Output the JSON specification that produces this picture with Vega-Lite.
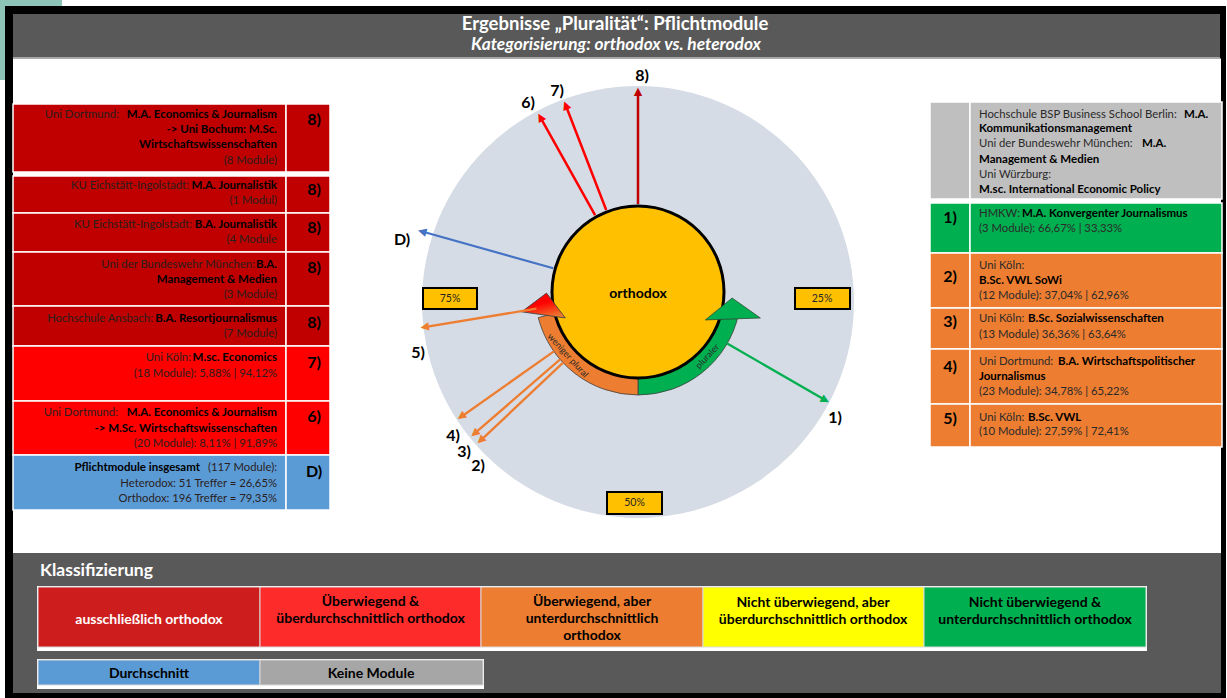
{
  "$schema": "https://vega.github.io/schema/vega-lite/v6.json",
  "width": 1227,
  "height": 698,
  "padding": 0,
  "autosize": {"type": "fit", "contains": "padding"},
  "background": "white",
  "config": {"view": {"stroke": null}, "font": "Lato", "text": {"font": "Lato"}},
  "datasets": {
    "flaechen": [
      {"x": 0, "x2": 62, "y": 0, "y2": 6, "k": "teal"},
      {"x": 0, "x2": 6, "y": 0, "y2": 80, "k": "teal"},
      {"x": 5, "x2": 1226, "y": 6, "y2": 698, "k": "rahmen"},
      {"x": 13, "x2": 1220, "y": 14, "y2": 57, "k": "kopf"},
      {"x": 13, "x2": 1220, "y": 57, "y2": 58.5, "k": "linie"},
      {"x": 13, "x2": 1221, "y": 58.5, "y2": 553, "k": "weiss"},
      {"x": 13, "x2": 1221, "y": 553, "y2": 693, "k": "kopf"},
      {"x": 37, "x2": 1147, "y": 586, "y2": 651, "k": "weiss"},
      {"x": 37, "x2": 484, "y": 659, "y2": 689, "k": "weiss"}
    ],
    "zellen": [
      {"s": "L", "y": 104, "y2": 172, "k": "ausschl"},
      {"s": "L", "y": 176, "y2": 213, "k": "ausschl"},
      {"s": "L", "y": 213, "y2": 252, "k": "ausschl"},
      {"s": "L", "y": 252, "y2": 306, "k": "ausschl"},
      {"s": "L", "y": 306, "y2": 346, "k": "ausschl"},
      {"s": "L", "y": 346, "y2": 401, "k": "ueberw"},
      {"s": "L", "y": 401, "y2": 455, "k": "ueberw"},
      {"s": "L", "y": 455, "y2": 510, "k": "avg"},
      {"s": "R", "y": 102, "y2": 199, "k": "keine"},
      {"s": "R", "y": 203, "y2": 253, "k": "nicht"},
      {"s": "R", "y": 253, "y2": 308, "k": "unter"},
      {"s": "R", "y": 308, "y2": 349, "k": "unter"},
      {"s": "R", "y": 349, "y2": 404, "k": "unter"},
      {"s": "R", "y": 404, "y2": 447, "k": "unter"}
    ],
    "legende": [
      {"x": 38, "x2": 260, "y": 587, "y2": 647, "k": "L1"},
      {"x": 260, "x2": 481, "y": 587, "y2": 647, "k": "L2"},
      {"x": 481, "x2": 703, "y": 587, "y2": 647, "k": "L3"},
      {"x": 703, "x2": 924, "y": 587, "y2": 647, "k": "L4"},
      {"x": 924, "x2": 1146, "y": 587, "y2": 647, "k": "L5"},
      {"x": 38, "x2": 260, "y": 660, "y2": 685, "k": "LD"},
      {"x": 260, "x2": 483, "y": 660, "y2": 685, "k": "LK"}
    ],
    "prozentboxen": [
      {"x": 423, "x2": 477, "y": 288, "y2": 309},
      {"x": 795, "x2": 850, "y": 288, "y2": 309},
      {"x": 607, "x2": 662, "y": 492, "y2": 514}
    ],
    "voll": [{"p0": 0, "p1": 100}],
    "baender": [
      {"p0": 28.5, "p1": 50, "k": "nicht", "lab": "pluraler", "pm": 36.9},
      {"p0": 50, "p1": 71, "k": "unter", "lab": "weniger plural", "pm": 63.3}
    ],
    "koepfe": [
      {"x": 732.5, "y": 308.5, "k": "nicht"},
      {"x": 545, "y": 304, "k": "unter"}
    ],
    "pfeile": [
      {"id": "1", "pct": 33.33, "k": "nicht"},
      {"id": "2", "pct": 62.96, "k": "unter"},
      {"id": "3", "pct": 63.64, "k": "unter"},
      {"id": "4", "pct": 65.22, "k": "unter"},
      {"id": "5", "pct": 72.41, "k": "unter"},
      {"id": "D", "pct": 79.35, "k": "avg"},
      {"id": "6", "pct": 91.89, "k": "ueberw"},
      {"id": "7", "pct": 94.12, "k": "ueberw"},
      {"id": "8", "pct": 100, "k": "ausschl"}
    ],
    "texte": [
      {"x": 615, "y": 24, "t": "Ergebnisse „Pluralität“: Pflichtmodule", "g": "titel"},
      {"x": 616, "y": 45, "t": "Kategorisierung: orthodox vs. heterodox", "g": "sub"},
      {"x": 40, "y": 571, "t": "Klassifizierung", "g": "klass"},

      {"x": 119, "y": 115, "t": "Uni Dortmund:", "g": "lr"},
      {"x": 277, "y": 115, "t": "M.A. Economics & Journalism", "g": "lb"},
      {"x": 277, "y": 130, "t": "-> Uni Bochum: M.Sc.", "g": "lb"},
      {"x": 277, "y": 145, "t": "Wirtschaftswissenschaften", "g": "lb"},
      {"x": 277, "y": 161, "t": "(8 Module)", "g": "lr"},
      {"x": 189, "y": 186, "t": "KU Eichstätt-Ingolstadt:", "g": "lr"},
      {"x": 277, "y": 186, "t": "M.A. Journalistik", "g": "lb"},
      {"x": 277, "y": 201, "t": "(1 Modul)", "g": "lr"},
      {"x": 192, "y": 225, "t": "KU Eichstätt-Ingolstadt:", "g": "lr"},
      {"x": 277, "y": 225, "t": "B.A. Journalistik", "g": "lb"},
      {"x": 277, "y": 240, "t": "(4 Module", "g": "lr"},
      {"x": 255, "y": 265, "t": "Uni der Bundeswehr München:", "g": "lr"},
      {"x": 277, "y": 265, "t": "B.A.", "g": "lb"},
      {"x": 277, "y": 280, "t": "Management & Medien", "g": "lb"},
      {"x": 277, "y": 295, "t": "(3 Module)", "g": "lr"},
      {"x": 153, "y": 319, "t": "Hochschule Ansbach:", "g": "lr"},
      {"x": 277, "y": 319, "t": "B.A. Resortjournalismus", "g": "lb"},
      {"x": 277, "y": 334, "t": "(7 Module)", "g": "lr"},
      {"x": 191, "y": 358, "t": "Uni Köln:", "g": "lr"},
      {"x": 277, "y": 358, "t": "M.sc.  Economics", "g": "lb"},
      {"x": 277, "y": 374, "t": "(18 Module): 5,88% |  94,12%", "g": "lr"},
      {"x": 118, "y": 413, "t": "Uni Dortmund:", "g": "lr"},
      {"x": 277, "y": 413, "t": "M.A. Economics  & Journalism", "g": "lb"},
      {"x": 277, "y": 429, "t": "-> M.Sc. Wirtschaftswissenschaften", "g": "lb"},
      {"x": 277, "y": 444, "t": "(20 Module): 8,11% |  91,89%", "g": "lr"},
      {"x": 200, "y": 468, "t": "Pflichtmodule insgesamt", "g": "lb"},
      {"x": 277, "y": 468, "t": "(117 Module):", "g": "lr"},
      {"x": 277, "y": 484, "t": "Heterodox:  51 Treffer = 26,65%", "g": "lr"},
      {"x": 277, "y": 499, "t": "Orthodox: 196 Treffer = 79,35%", "g": "lr"},

      {"x": 314, "y": 120, "t": "8)", "g": "nr"},
      {"x": 314, "y": 190, "t": "8)", "g": "nr"},
      {"x": 314, "y": 228, "t": "8)", "g": "nr"},
      {"x": 314, "y": 268, "t": "8)", "g": "nr"},
      {"x": 314, "y": 323, "t": "8)", "g": "nr"},
      {"x": 314, "y": 363, "t": "7)", "g": "nr"},
      {"x": 314, "y": 417, "t": "6)", "g": "nr"},
      {"x": 314, "y": 472, "t": "D)", "g": "nr"},

      {"x": 979, "y": 115, "t": "Hochschule BSP Business School Berlin:", "g": "rr"},
      {"x": 1184, "y": 115, "t": "M.A.", "g": "rb"},
      {"x": 979, "y": 129, "t": "Kommunikationsmanagement", "g": "rb"},
      {"x": 979, "y": 144, "t": "Uni der Bundeswehr München:", "g": "rr"},
      {"x": 1142, "y": 144, "t": "M.A.", "g": "rb"},
      {"x": 979, "y": 160, "t": "Management & Medien", "g": "rb"},
      {"x": 979, "y": 175, "t": "Uni Würzburg:", "g": "rr"},
      {"x": 979, "y": 190, "t": "M.sc. International  Economic  Policy", "g": "rb"},
      {"x": 979, "y": 214, "t": "HMKW:", "g": "rr"},
      {"x": 1022, "y": 214, "t": "M.A.  Konvergenter Journalismus", "g": "rb"},
      {"x": 979, "y": 229, "t": "(3 Module): 66,67% | 33,33%", "g": "rr"},
      {"x": 979, "y": 266, "t": "Uni Köln:", "g": "rr"},
      {"x": 979, "y": 281, "t": "B.Sc. VWL SoWi", "g": "rb"},
      {"x": 979, "y": 296, "t": "(12 Module): 37,04% | 62,96%", "g": "rr"},
      {"x": 979, "y": 319, "t": "Uni Köln:", "g": "rr"},
      {"x": 1028, "y": 319, "t": "B.Sc. Sozialwissenschaften", "g": "rb"},
      {"x": 979, "y": 335, "t": "(13 Module) 36,36% | 63,64%", "g": "rr"},
      {"x": 979, "y": 362, "t": "Uni Dortmund:", "g": "rr"},
      {"x": 1058, "y": 362, "t": "B.A. Wirtschaftspolitischer", "g": "rb"},
      {"x": 979, "y": 377, "t": "Journalismus", "g": "rb"},
      {"x": 979, "y": 392, "t": "(23 Module): 34,78% | 65,22%", "g": "rr"},
      {"x": 979, "y": 418, "t": "Uni Köln:", "g": "rr"},
      {"x": 1028, "y": 418, "t": "B.Sc. VWL", "g": "rb"},
      {"x": 979, "y": 432, "t": "(10 Module): 27,59% | 72,41%", "g": "rr"},

      {"x": 950, "y": 218, "t": "1)", "g": "nr"},
      {"x": 950, "y": 277, "t": "2)", "g": "nr"},
      {"x": 950, "y": 322, "t": "3)", "g": "nr"},
      {"x": 950, "y": 367, "t": "4)", "g": "nr"},
      {"x": 950, "y": 419, "t": "5)", "g": "nr"},

      {"x": 149, "y": 620, "t": "ausschließlich orthodox", "g": "legw"},
      {"x": 370.5, "y": 602, "t": "Überwiegend &\nüberdurchschnittlich orthodox", "g": "leg"},
      {"x": 592, "y": 602, "t": "Überwiegend, aber\nunterdurchschnittlich\northodox", "g": "leg"},
      {"x": 813, "y": 603, "t": "Nicht überwiegend, aber\nüberdurchschnittlich orthodox", "g": "leg"},
      {"x": 1035, "y": 603, "t": "Nicht überwiegend &\nunterdurchschnittlich orthodox", "g": "leg"},
      {"x": 149, "y": 674, "t": "Durchschnitt", "g": "leg"},
      {"x": 371, "y": 674, "t": "Keine Module", "g": "leg"},

      {"x": 450, "y": 298.5, "t": "75%", "g": "proz"},
      {"x": 822, "y": 298.5, "t": "25%", "g": "proz"},
      {"x": 634.5, "y": 503, "t": "50%", "g": "proz"},

      {"x": 642, "y": 76, "t": "8)", "g": "pl"},
      {"x": 557, "y": 91, "t": "7)", "g": "pl"},
      {"x": 528, "y": 103, "t": "6)", "g": "pl"},
      {"x": 402, "y": 240, "t": "D)", "g": "pl"},
      {"x": 418, "y": 353, "t": "5)", "g": "pl"},
      {"x": 453, "y": 436, "t": "4)", "g": "pl"},
      {"x": 464, "y": 452, "t": "3)", "g": "pl"},
      {"x": 478, "y": 466, "t": "2)", "g": "pl"},
      {"x": 835, "y": 418, "t": "1)", "g": "pl"},

      {"x": 638, "y": 294, "t": "orthodox", "g": "orth"}
    ]
  },
  "resolve": {"scale": {"color": "independent", "stroke": "independent"}},
  "layer": [
    {
      "data": {"name": "flaechen"},
      "mark": {"type": "rect"},
      "encoding": {
        "x": {"field": "x", "type": "quantitative", "scale": {"domain": [0, 1227], "nice": false, "zero": false}, "axis": null},
        "y": {"field": "y", "type": "quantitative", "scale": {"domain": [0, 698], "nice": false, "zero": false, "reverse": true}, "axis": null},
        "x2": {"field": "x2"},
        "y2": {"field": "y2"},
        "color": {"field": "k", "type": "nominal", "legend": null,
          "scale": {"domain": ["teal", "rahmen", "kopf", "linie", "weiss"], "range": ["#8EC4B8", "#000000", "#595959", "#A6A6A6", "#FFFFFF"]}}
      }
    },
    {
      "data": {"name": "zellen"},
      "transform": [{"filter": "datum.s === 'L'"}],
      "mark": {"type": "rect", "stroke": "#FFFFFF", "strokeWidth": 1.5},
      "encoding": {
        "x": {"datum": 13, "type": "quantitative", "scale": {"domain": [0, 1227], "nice": false, "zero": false}, "axis": null},
        "x2": {"datum": 286},
        "y": {"field": "y", "type": "quantitative", "scale": {"domain": [0, 698], "nice": false, "zero": false, "reverse": true}, "axis": null},
        "y2": {"field": "y2"},
        "color": {"field": "k", "type": "nominal", "legend": null,
          "scale": {"domain": ["ausschl", "ueberw", "unter", "nicht", "avg", "keine"], "range": ["#C00000", "#FF0000", "#ED7D31", "#00B050", "#5B9BD5", "#BFBFBF"]}}
      }
    },
    {
      "data": {"name": "zellen"},
      "transform": [{"filter": "datum.s === 'L'"}],
      "mark": {"type": "rect", "stroke": "#FFFFFF", "strokeWidth": 1.5},
      "encoding": {
        "x": {"datum": 286, "type": "quantitative", "scale": {"domain": [0, 1227], "nice": false, "zero": false}, "axis": null},
        "x2": {"datum": 330},
        "y": {"field": "y", "type": "quantitative", "scale": {"domain": [0, 698], "nice": false, "zero": false, "reverse": true}, "axis": null},
        "y2": {"field": "y2"},
        "color": {"field": "k", "type": "nominal", "legend": null,
          "scale": {"domain": ["ausschl", "ueberw", "unter", "nicht", "avg", "keine"], "range": ["#C00000", "#FF0000", "#ED7D31", "#00B050", "#5B9BD5", "#BFBFBF"]}}
      }
    },
    {
      "data": {"name": "zellen"},
      "transform": [{"filter": "datum.s === 'R'"}],
      "mark": {"type": "rect", "stroke": "#FFFFFF", "strokeWidth": 1.5},
      "encoding": {
        "x": {"datum": 930, "type": "quantitative", "scale": {"domain": [0, 1227], "nice": false, "zero": false}, "axis": null},
        "x2": {"datum": 970},
        "y": {"field": "y", "type": "quantitative", "scale": {"domain": [0, 698], "nice": false, "zero": false, "reverse": true}, "axis": null},
        "y2": {"field": "y2"},
        "color": {"field": "k", "type": "nominal", "legend": null,
          "scale": {"domain": ["ausschl", "ueberw", "unter", "nicht", "avg", "keine"], "range": ["#C00000", "#FF0000", "#ED7D31", "#00B050", "#5B9BD5", "#BFBFBF"]}}
      }
    },
    {
      "data": {"name": "zellen"},
      "transform": [{"filter": "datum.s === 'R'"}],
      "mark": {"type": "rect", "stroke": "#FFFFFF", "strokeWidth": 1.5},
      "encoding": {
        "x": {"datum": 970, "type": "quantitative", "scale": {"domain": [0, 1227], "nice": false, "zero": false}, "axis": null},
        "x2": {"datum": 1222},
        "y": {"field": "y", "type": "quantitative", "scale": {"domain": [0, 698], "nice": false, "zero": false, "reverse": true}, "axis": null},
        "y2": {"field": "y2"},
        "color": {"field": "k", "type": "nominal", "legend": null,
          "scale": {"domain": ["ausschl", "ueberw", "unter", "nicht", "avg", "keine"], "range": ["#C00000", "#FF0000", "#ED7D31", "#00B050", "#5B9BD5", "#BFBFBF"]}}
      }
    },
    {
      "data": {"name": "legende"},
      "mark": {"type": "rect", "stroke": "#D9D9D9", "strokeWidth": 1},
      "encoding": {
        "x": {"field": "x", "type": "quantitative", "scale": {"domain": [0, 1227], "nice": false, "zero": false}, "axis": null},
        "y": {"field": "y", "type": "quantitative", "scale": {"domain": [0, 698], "nice": false, "zero": false, "reverse": true}, "axis": null},
        "x2": {"field": "x2"},
        "y2": {"field": "y2"},
        "color": {"field": "k", "type": "nominal", "legend": null,
          "scale": {"domain": ["L1", "L2", "L3", "L4", "L5", "LD", "LK"], "range": ["#CD1D1D", "#FE2B2B", "#ED7D31", "#FFFF00", "#00B050", "#5B9BD5", "#A6A6A6"]}}
      }
    },
    {
      "data": {"name": "voll"},
      "mark": {"type": "arc", "radius": 216, "fill": "#D6DCE5"},
      "encoding": {
        "x": {"datum": 638, "type": "quantitative", "scale": {"domain": [0, 1227], "nice": false, "zero": false}, "axis": null},
        "y": {"datum": 302, "type": "quantitative", "scale": {"domain": [0, 698], "nice": false, "zero": false, "reverse": true}, "axis": null},
        "theta": {"field": "p0", "type": "quantitative", "stack": null, "scale": {"domain": [0, 100], "range": [0, 6.283185307]}},
        "theta2": {"field": "p1"}
      }
    },
    {
      "data": {"name": "baender"},
      "mark": {"type": "arc", "radius": 103, "radius2": 86, "stroke": "#3F3F3F", "strokeWidth": 0.8},
      "encoding": {
        "x": {"datum": 638, "type": "quantitative", "scale": {"domain": [0, 1227], "nice": false, "zero": false}, "axis": null},
        "y": {"datum": 292, "type": "quantitative", "scale": {"domain": [0, 698], "nice": false, "zero": false, "reverse": true}, "axis": null},
        "theta": {"field": "p0", "type": "quantitative", "stack": null, "scale": {"domain": [0, 100], "range": [0, 6.283185307]}},
        "theta2": {"field": "p1"},
        "color": {"field": "k", "type": "nominal", "legend": null, "scale": {"domain": ["nicht", "unter"], "range": ["#00B050", "#ED7D31"]}}
      }
    },
    {
      "data": {"name": "voll"},
      "mark": {"type": "arc", "radius": 86, "fill": "#FFC000"},
      "encoding": {
        "x": {"datum": 638, "type": "quantitative", "scale": {"domain": [0, 1227], "nice": false, "zero": false}, "axis": null},
        "y": {"datum": 292, "type": "quantitative", "scale": {"domain": [0, 698], "nice": false, "zero": false, "reverse": true}, "axis": null},
        "theta": {"field": "p0", "type": "quantitative", "stack": null, "scale": {"domain": [0, 100], "range": [0, 6.283185307]}},
        "theta2": {"field": "p1"}
      }
    },
    {
      "data": {"name": "voll"},
      "mark": {"type": "arc", "radius": 87.5, "radius2": 84.5, "fill": "#000000"},
      "encoding": {
        "x": {"datum": 638, "type": "quantitative", "scale": {"domain": [0, 1227], "nice": false, "zero": false}, "axis": null},
        "y": {"datum": 292, "type": "quantitative", "scale": {"domain": [0, 698], "nice": false, "zero": false, "reverse": true}, "axis": null},
        "theta": {"field": "p0", "type": "quantitative", "stack": null, "scale": {"domain": [0, 100], "range": [0, 6.283185307]}},
        "theta2": {"field": "p1"}
      }
    },
    {
      "data": {"name": "koepfe"},
      "transform": [{"filter": "datum.k === 'nicht'"}],
      "mark": {"type": "point", "shape": "M -1 0.38 L 0 -0.38 L 1 0.38 Z", "size": 3025, "angle": -2, "filled": true, "opacity": 1, "fill": "#00B050", "stroke": "#2E4E35", "strokeWidth": 0.8},
      "encoding": {
        "x": {"field": "x", "type": "quantitative", "scale": {"domain": [0, 1227], "nice": false, "zero": false}, "axis": null},
        "y": {"field": "y", "type": "quantitative", "scale": {"domain": [0, 698], "nice": false, "zero": false, "reverse": true}, "axis": null}
      }
    },
    {
      "data": {"name": "koepfe"},
      "transform": [{"filter": "datum.k === 'unter'"}],
      "mark": {"type": "point", "shape": "M -1 0.5 L 0 -0.5 L 1 0.5 Z", "size": 1936, "angle": 8, "filled": true, "opacity": 1,
        "fill": {"gradient": "linear", "x1": 0, "y1": 0, "x2": 0.8, "y2": 1, "stops": [{"offset": 0, "color": "#FF0000"}, {"offset": 0.5, "color": "#FF0000"}, {"offset": 1, "color": "#ED7D31"}]},
        "stroke": "#404040", "strokeWidth": 0.8},
      "encoding": {
        "x": {"field": "x", "type": "quantitative", "scale": {"domain": [0, 1227], "nice": false, "zero": false}, "axis": null},
        "y": {"field": "y", "type": "quantitative", "scale": {"domain": [0, 698], "nice": false, "zero": false, "reverse": true}, "axis": null}
      }
    },
    {
      "data": {"name": "pfeile"},
      "transform": [{"filter": "datum.k === 'ausschl' || datum.k === 'ueberw'"}],
      "mark": {"type": "arc", "radius": 201, "radius2": 88, "fill": "transparent", "strokeWidth": 2.5},
      "encoding": {
        "x": {"datum": 638, "type": "quantitative", "scale": {"domain": [0, 1227], "nice": false, "zero": false}, "axis": null},
        "y": {"datum": 292, "type": "quantitative", "scale": {"domain": [0, 698], "nice": false, "zero": false, "reverse": true}, "axis": null},
        "theta": {"field": "pct", "type": "quantitative", "stack": null, "scale": {"domain": [0, 100], "range": [0, 6.283185307]}},
        "theta2": {"field": "pct"},
        "stroke": {"field": "k", "type": "nominal", "legend": null, "scale": {"domain": ["ausschl", "ueberw", "unter", "nicht", "avg"], "range": ["#C00000", "#FF0000", "#ED7D31", "#00B050", "#4472C4"]}}
      }
    },
    {
      "data": {"name": "pfeile"},
      "transform": [{"filter": "datum.k === 'avg'"}],
      "mark": {"type": "arc", "radius": 226, "radius2": 88, "fill": "transparent", "strokeWidth": 2.2},
      "encoding": {
        "x": {"datum": 638, "type": "quantitative", "scale": {"domain": [0, 1227], "nice": false, "zero": false}, "axis": null},
        "y": {"datum": 292, "type": "quantitative", "scale": {"domain": [0, 698], "nice": false, "zero": false, "reverse": true}, "axis": null},
        "theta": {"field": "pct", "type": "quantitative", "stack": null, "scale": {"domain": [0, 100], "range": [0, 6.283185307]}},
        "theta2": {"field": "pct"},
        "stroke": {"field": "k", "type": "nominal", "legend": null, "scale": {"domain": ["ausschl", "ueberw", "unter", "nicht", "avg"], "range": ["#C00000", "#FF0000", "#ED7D31", "#00B050", "#4472C4"]}}
      }
    },
    {
      "data": {"name": "pfeile"},
      "transform": [{"filter": "datum.k === 'unter' || datum.k === 'nicht'"}],
      "mark": {"type": "arc", "radius": 218, "radius2": 103, "fill": "transparent", "strokeWidth": 2.3},
      "encoding": {
        "x": {"datum": 638, "type": "quantitative", "scale": {"domain": [0, 1227], "nice": false, "zero": false}, "axis": null},
        "y": {"datum": 292, "type": "quantitative", "scale": {"domain": [0, 698], "nice": false, "zero": false, "reverse": true}, "axis": null},
        "theta": {"field": "pct", "type": "quantitative", "stack": null, "scale": {"domain": [0, 100], "range": [0, 6.283185307]}},
        "theta2": {"field": "pct"},
        "stroke": {"field": "k", "type": "nominal", "legend": null, "scale": {"domain": ["ausschl", "ueberw", "unter", "nicht", "avg"], "range": ["#C00000", "#FF0000", "#ED7D31", "#00B050", "#4472C4"]}}
      }
    },
    {
      "data": {"name": "pfeile"},
      "transform": [{"filter": "datum.k === 'ausschl' || datum.k === 'ueberw'"}],
      "mark": {"type": "text", "text": "▼", "font": "DejaVu Sans", "fontSize": 11, "radius": 200, "align": "center", "baseline": "middle"},
      "encoding": {
        "x": {"datum": 638, "type": "quantitative", "scale": {"domain": [0, 1227], "nice": false, "zero": false}, "axis": null},
        "y": {"datum": 292, "type": "quantitative", "scale": {"domain": [0, 698], "nice": false, "zero": false, "reverse": true}, "axis": null},
        "theta": {"field": "pct", "type": "quantitative", "stack": null, "scale": {"domain": [0, 100], "range": [0, 6.283185307]}},
        "angle": {"field": "pct", "type": "quantitative", "scale": {"domain": [0, 100], "range": [180, 540]}},
        "color": {"field": "k", "type": "nominal", "legend": null, "scale": {"domain": ["ausschl", "ueberw", "unter", "nicht", "avg"], "range": ["#C00000", "#FF0000", "#ED7D31", "#00B050", "#4472C4"]}}
      }
    },
    {
      "data": {"name": "pfeile"},
      "transform": [{"filter": "datum.k === 'avg'"}],
      "mark": {"type": "text", "text": "▼", "font": "DejaVu Sans", "fontSize": 11, "radius": 224, "align": "center", "baseline": "middle"},
      "encoding": {
        "x": {"datum": 638, "type": "quantitative", "scale": {"domain": [0, 1227], "nice": false, "zero": false}, "axis": null},
        "y": {"datum": 292, "type": "quantitative", "scale": {"domain": [0, 698], "nice": false, "zero": false, "reverse": true}, "axis": null},
        "theta": {"field": "pct", "type": "quantitative", "stack": null, "scale": {"domain": [0, 100], "range": [0, 6.283185307]}},
        "angle": {"field": "pct", "type": "quantitative", "scale": {"domain": [0, 100], "range": [180, 540]}},
        "color": {"field": "k", "type": "nominal", "legend": null, "scale": {"domain": ["ausschl", "ueberw", "unter", "nicht", "avg"], "range": ["#C00000", "#FF0000", "#ED7D31", "#00B050", "#4472C4"]}}
      }
    },
    {
      "data": {"name": "pfeile"},
      "transform": [{"filter": "datum.k === 'unter' || datum.k === 'nicht'"}],
      "mark": {"type": "text", "text": "▼", "font": "DejaVu Sans", "fontSize": 11, "radius": 216, "align": "center", "baseline": "middle"},
      "encoding": {
        "x": {"datum": 638, "type": "quantitative", "scale": {"domain": [0, 1227], "nice": false, "zero": false}, "axis": null},
        "y": {"datum": 292, "type": "quantitative", "scale": {"domain": [0, 698], "nice": false, "zero": false, "reverse": true}, "axis": null},
        "theta": {"field": "pct", "type": "quantitative", "stack": null, "scale": {"domain": [0, 100], "range": [0, 6.283185307]}},
        "angle": {"field": "pct", "type": "quantitative", "scale": {"domain": [0, 100], "range": [180, 540]}},
        "color": {"field": "k", "type": "nominal", "legend": null, "scale": {"domain": ["ausschl", "ueberw", "unter", "nicht", "avg"], "range": ["#C00000", "#FF0000", "#ED7D31", "#00B050", "#4472C4"]}}
      }
    },
    {
      "data": {"name": "baender"},
      "mark": {"type": "text", "fontSize": 9, "radius": 94.5, "align": "center", "baseline": "middle", "color": "#2A2A2A"},
      "encoding": {
        "x": {"datum": 638, "type": "quantitative", "scale": {"domain": [0, 1227], "nice": false, "zero": false}, "axis": null},
        "y": {"datum": 292, "type": "quantitative", "scale": {"domain": [0, 698], "nice": false, "zero": false, "reverse": true}, "axis": null},
        "theta": {"field": "pm", "type": "quantitative", "stack": null, "scale": {"domain": [0, 100], "range": [0, 6.283185307]}},
        "angle": {"field": "pm", "type": "quantitative", "scale": {"domain": [0, 100], "range": [180, 540]}},
        "text": {"field": "lab"}
      }
    },
    {
      "data": {"name": "prozentboxen"},
      "mark": {"type": "rect", "fill": "#FFC000", "stroke": "#000000", "strokeWidth": 2},
      "encoding": {
        "x": {"field": "x", "type": "quantitative", "scale": {"domain": [0, 1227], "nice": false, "zero": false}, "axis": null},
        "y": {"field": "y", "type": "quantitative", "scale": {"domain": [0, 698], "nice": false, "zero": false, "reverse": true}, "axis": null},
        "x2": {"field": "x2"}, "y2": {"field": "y2"}
      }
    },
    {
      "data": {"name": "texte"},
      "transform": [{"filter": "datum.g === 'titel'"}],
      "mark": {"type": "text", "align": "center", "baseline": "middle", "fontSize": 18.5, "fontWeight": "bold", "color": "#FFFFFF"},
      "encoding": {
        "x": {"field": "x", "type": "quantitative", "scale": {"domain": [0, 1227], "nice": false, "zero": false}, "axis": null},
        "y": {"field": "y", "type": "quantitative", "scale": {"domain": [0, 698], "nice": false, "zero": false, "reverse": true}, "axis": null},
        "text": {"field": "t"}
      }
    },
    {
      "data": {"name": "texte"},
      "transform": [{"filter": "datum.g === 'sub'"}],
      "mark": {"type": "text", "align": "center", "baseline": "middle", "fontSize": 17.3, "fontWeight": "bold", "fontStyle": "italic", "color": "#FFFFFF"},
      "encoding": {
        "x": {"field": "x", "type": "quantitative", "scale": {"domain": [0, 1227], "nice": false, "zero": false}, "axis": null},
        "y": {"field": "y", "type": "quantitative", "scale": {"domain": [0, 698], "nice": false, "zero": false, "reverse": true}, "axis": null},
        "text": {"field": "t"}
      }
    },
    {
      "data": {"name": "texte"},
      "transform": [{"filter": "datum.g === 'klass'"}],
      "mark": {"type": "text", "align": "left", "baseline": "middle", "fontSize": 17.5, "fontWeight": "bold", "color": "#FFFFFF"},
      "encoding": {
        "x": {"field": "x", "type": "quantitative", "scale": {"domain": [0, 1227], "nice": false, "zero": false}, "axis": null},
        "y": {"field": "y", "type": "quantitative", "scale": {"domain": [0, 698], "nice": false, "zero": false, "reverse": true}, "axis": null},
        "text": {"field": "t"}
      }
    },
    {
      "data": {"name": "texte"},
      "transform": [{"filter": "datum.g === 'lr'"}],
      "mark": {"type": "text", "align": "right", "baseline": "middle", "fontSize": 11.3, "color": "#2A1E1E"},
      "encoding": {
        "x": {"field": "x", "type": "quantitative", "scale": {"domain": [0, 1227], "nice": false, "zero": false}, "axis": null},
        "y": {"field": "y", "type": "quantitative", "scale": {"domain": [0, 698], "nice": false, "zero": false, "reverse": true}, "axis": null},
        "text": {"field": "t"}
      }
    },
    {
      "data": {"name": "texte"},
      "transform": [{"filter": "datum.g === 'lb'"}],
      "mark": {"type": "text", "align": "right", "baseline": "middle", "fontSize": 11.5, "fontWeight": "bold", "color": "#000000"},
      "encoding": {
        "x": {"field": "x", "type": "quantitative", "scale": {"domain": [0, 1227], "nice": false, "zero": false}, "axis": null},
        "y": {"field": "y", "type": "quantitative", "scale": {"domain": [0, 698], "nice": false, "zero": false, "reverse": true}, "axis": null},
        "text": {"field": "t"}
      }
    },
    {
      "data": {"name": "texte"},
      "transform": [{"filter": "datum.g === 'rr'"}],
      "mark": {"type": "text", "align": "left", "baseline": "middle", "fontSize": 11.3, "color": "#2A2A2A"},
      "encoding": {
        "x": {"field": "x", "type": "quantitative", "scale": {"domain": [0, 1227], "nice": false, "zero": false}, "axis": null},
        "y": {"field": "y", "type": "quantitative", "scale": {"domain": [0, 698], "nice": false, "zero": false, "reverse": true}, "axis": null},
        "text": {"field": "t"}
      }
    },
    {
      "data": {"name": "texte"},
      "transform": [{"filter": "datum.g === 'rb'"}],
      "mark": {"type": "text", "align": "left", "baseline": "middle", "fontSize": 11.5, "fontWeight": "bold", "color": "#000000"},
      "encoding": {
        "x": {"field": "x", "type": "quantitative", "scale": {"domain": [0, 1227], "nice": false, "zero": false}, "axis": null},
        "y": {"field": "y", "type": "quantitative", "scale": {"domain": [0, 698], "nice": false, "zero": false, "reverse": true}, "axis": null},
        "text": {"field": "t"}
      }
    },
    {
      "data": {"name": "texte"},
      "transform": [{"filter": "datum.g === 'nr' || datum.g === 'pl'"}],
      "mark": {"type": "text", "align": "center", "baseline": "middle", "fontSize": 16, "fontWeight": "bold", "color": "#000000"},
      "encoding": {
        "x": {"field": "x", "type": "quantitative", "scale": {"domain": [0, 1227], "nice": false, "zero": false}, "axis": null},
        "y": {"field": "y", "type": "quantitative", "scale": {"domain": [0, 698], "nice": false, "zero": false, "reverse": true}, "axis": null},
        "text": {"field": "t"}
      }
    },
    {
      "data": {"name": "texte"},
      "transform": [{"filter": "datum.g === 'leg'"}],
      "mark": {"type": "text", "align": "center", "baseline": "middle", "fontSize": 14, "fontWeight": "bold", "color": "#000000", "lineBreak": "\n", "lineHeight": 17},
      "encoding": {
        "x": {"field": "x", "type": "quantitative", "scale": {"domain": [0, 1227], "nice": false, "zero": false}, "axis": null},
        "y": {"field": "y", "type": "quantitative", "scale": {"domain": [0, 698], "nice": false, "zero": false, "reverse": true}, "axis": null},
        "text": {"field": "t"}
      }
    },
    {
      "data": {"name": "texte"},
      "transform": [{"filter": "datum.g === 'legw'"}],
      "mark": {"type": "text", "align": "center", "baseline": "middle", "fontSize": 14, "fontWeight": "bold", "color": "#FFFFFF"},
      "encoding": {
        "x": {"field": "x", "type": "quantitative", "scale": {"domain": [0, 1227], "nice": false, "zero": false}, "axis": null},
        "y": {"field": "y", "type": "quantitative", "scale": {"domain": [0, 698], "nice": false, "zero": false, "reverse": true}, "axis": null},
        "text": {"field": "t"}
      }
    },
    {
      "data": {"name": "texte"},
      "transform": [{"filter": "datum.g === 'proz'"}],
      "mark": {"type": "text", "align": "center", "baseline": "middle", "fontSize": 10.5, "color": "#262626"},
      "encoding": {
        "x": {"field": "x", "type": "quantitative", "scale": {"domain": [0, 1227], "nice": false, "zero": false}, "axis": null},
        "y": {"field": "y", "type": "quantitative", "scale": {"domain": [0, 698], "nice": false, "zero": false, "reverse": true}, "axis": null},
        "text": {"field": "t"}
      }
    },
    {
      "data": {"name": "texte"},
      "transform": [{"filter": "datum.g === 'orth'"}],
      "mark": {"type": "text", "align": "center", "baseline": "middle", "fontSize": 14, "fontWeight": "bold", "color": "#000000"},
      "encoding": {
        "x": {"field": "x", "type": "quantitative", "scale": {"domain": [0, 1227], "nice": false, "zero": false}, "axis": null},
        "y": {"field": "y", "type": "quantitative", "scale": {"domain": [0, 698], "nice": false, "zero": false, "reverse": true}, "axis": null},
        "text": {"field": "t"}
      }
    }
  ]
}
